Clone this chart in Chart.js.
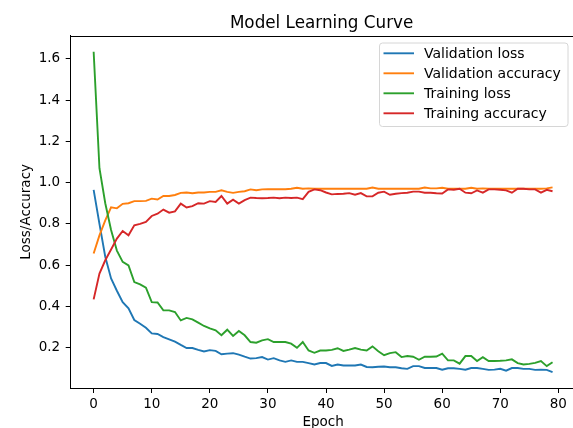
<!DOCTYPE html>
<html>
<head>
<meta charset="utf-8">
<title>Model Learning Curve</title>
<script src="https://cdn.jsdelivr.net/npm/chart.js@4.4.1/dist/chart.umd.min.js"></script>
<style>
html, body { margin: 0; padding: 0; overflow: hidden; background: #fff; }
#chart { display: block; }
</style>
</head>
<body>
<canvas id="chart" width="577" height="440"></canvas>
<script>
// Epochs on the x axis
const epochs = [
    0, 1, 2, 3, 4, 5, 6, 7, 8, 9, 10, 11, 12, 13, 14, 15, 16, 17, 18, 19,
    20, 21, 22, 23, 24, 25, 26, 27, 28, 29, 30, 31, 32, 33, 34, 35, 36, 37, 38, 39,
    40, 41, 42, 43, 44, 45, 46, 47, 48, 49, 50, 51, 52, 53, 54, 55, 56, 57, 58, 59,
    60, 61, 62, 63, 64, 65, 66, 67, 68, 69, 70, 71, 72, 73, 74, 75, 76, 77, 78, 79
];

// Series values
const valLoss = [
    0.965, 0.80, 0.64, 0.535, 0.475, 0.42, 0.39, 0.333, 0.315, 0.295,
    0.268, 0.265, 0.25, 0.239, 0.228, 0.212, 0.197, 0.197, 0.188, 0.18,
    0.187, 0.183, 0.167, 0.17, 0.172, 0.165, 0.155, 0.146, 0.148, 0.153,
    0.141, 0.148, 0.137, 0.13, 0.137, 0.13, 0.13, 0.124, 0.117, 0.124,
    0.124, 0.11, 0.117, 0.112, 0.112, 0.112, 0.117, 0.105, 0.104, 0.106,
    0.107, 0.104, 0.104, 0.099, 0.096, 0.109, 0.109, 0.1, 0.1, 0.1,
    0.092, 0.099, 0.099, 0.096, 0.092, 0.1, 0.1, 0.096, 0.091, 0.092,
    0.096, 0.087, 0.1, 0.1, 0.096, 0.096, 0.091, 0.092, 0.091, 0.08
];
const valAcc = [
    0.656, 0.744, 0.817, 0.88, 0.875, 0.897, 0.90, 0.91, 0.91, 0.911,
    0.922, 0.918, 0.935, 0.935, 0.94, 0.95, 0.952, 0.948, 0.952, 0.952,
    0.955, 0.955, 0.963, 0.955, 0.95, 0.955, 0.958, 0.967, 0.963, 0.967,
    0.968, 0.968, 0.968, 0.968, 0.97, 0.975, 0.97, 0.972, 0.97, 0.97,
    0.97, 0.97, 0.97, 0.97, 0.97, 0.97, 0.97, 0.97, 0.976, 0.97,
    0.97, 0.97, 0.97, 0.97, 0.97, 0.97, 0.97, 0.976, 0.972, 0.972,
    0.975, 0.97, 0.97, 0.97, 0.97, 0.975, 0.97, 0.972, 0.97, 0.97,
    0.97, 0.97, 0.97, 0.97, 0.97, 0.97, 0.97, 0.97, 0.972, 0.977
];
const trainLoss = [
    1.635, 1.07, 0.90, 0.77, 0.67, 0.615, 0.598, 0.517, 0.506, 0.49,
    0.42, 0.418, 0.38, 0.38, 0.372, 0.331, 0.343, 0.336, 0.32, 0.304,
    0.292, 0.283, 0.259, 0.286, 0.256, 0.28, 0.259, 0.226, 0.223, 0.234,
    0.24, 0.226, 0.226, 0.226, 0.218, 0.198, 0.226, 0.185, 0.174, 0.185,
    0.185, 0.188, 0.196, 0.183, 0.189, 0.197, 0.189, 0.185, 0.205, 0.181,
    0.162, 0.172, 0.177, 0.153, 0.158, 0.155, 0.14, 0.155, 0.155, 0.156,
    0.17, 0.137, 0.137, 0.121, 0.158, 0.158, 0.134, 0.153, 0.134, 0.134,
    0.135, 0.137, 0.142, 0.124, 0.117, 0.12, 0.125, 0.134, 0.109, 0.128
];
const trainAcc = [
    0.433, 0.558, 0.623, 0.675, 0.728, 0.765, 0.744, 0.793, 0.80, 0.809,
    0.838, 0.849, 0.869, 0.854, 0.86, 0.898, 0.879, 0.886, 0.90, 0.898,
    0.91, 0.906, 0.935, 0.898, 0.917, 0.898, 0.915, 0.927, 0.925, 0.924,
    0.925, 0.927, 0.924, 0.927, 0.925, 0.927, 0.92, 0.955, 0.967, 0.963,
    0.952, 0.943, 0.945, 0.946, 0.949, 0.941, 0.949, 0.933, 0.933, 0.951,
    0.956, 0.941, 0.946, 0.949, 0.951, 0.956, 0.956, 0.951, 0.951, 0.948,
    0.947, 0.967, 0.965, 0.97, 0.951, 0.948, 0.962, 0.951, 0.967, 0.967,
    0.965, 0.962, 0.951, 0.97, 0.97, 0.967, 0.967, 0.951, 0.965, 0.958
];

// Legend names and colours, in legend order
const seriesNames = ['Validation loss', 'Validation accuracy', 'Training loss', 'Training accuracy'];
const seriesColors = ['#1f77b4', '#ff7f0e', '#2ca02c', '#d62728'];

// Tick labels
const xTicks = [0, 10, 20, 30, 40, 50, 60, 70, 80];
const yTicks = [0.2, 0.4, 0.6, 0.8, 1.0, 1.2, 1.4, 1.6];

const FONT = 'DejaVu Sans';
const tickFont = { family: FONT, size: 13.5 };

// Title, top/right spines and the boxed legend inside the plot
const framePlugin = {
    id: 'frame',
    afterDraw(chart) {
        const ctx = chart.ctx;
        const area = chart.chartArea;
        ctx.save();

        // spines on top and right
        ctx.strokeStyle = '#000';
        ctx.lineWidth = 1;
        ctx.beginPath();
        ctx.moveTo(area.left, Math.round(area.top) + 0.5);
        ctx.lineTo(area.right, Math.round(area.top) + 0.5);
        ctx.lineTo(area.right, area.bottom);
        ctx.stroke();

        // title
        ctx.fillStyle = '#000';
        ctx.font = '16.8px "' + FONT + '"';
        ctx.textAlign = 'center';
        ctx.textBaseline = 'alphabetic';
        ctx.fillText('Model Learning Curve', (area.left + area.right) / 2 - 1.5, 28.3);

        // legend box
        const bx = 379.5, by = 43, bw = 188.5, bh = 83.5, r = 3;
        ctx.beginPath();
        ctx.moveTo(bx + r, by);
        ctx.arcTo(bx + bw, by, bx + bw, by + bh, r);
        ctx.arcTo(bx + bw, by + bh, bx, by + bh, r);
        ctx.arcTo(bx, by + bh, bx, by, r);
        ctx.arcTo(bx, by, bx + bw, by, r);
        ctx.closePath();
        ctx.fillStyle = 'rgba(255,255,255,0.8)';
        ctx.fill();
        ctx.strokeStyle = '#d6d6d6';
        ctx.stroke();

        ctx.font = '14px "' + FONT + '"';
        ctx.textAlign = 'left';
        seriesNames.forEach((name, i) => {
            const rowY = 53.3 + i * 20;
            ctx.strokeStyle = seriesColors[i];
            ctx.lineWidth = 1.9;
            ctx.beginPath();
            ctx.moveTo(383.5, rowY);
            ctx.lineTo(414, rowY);
            ctx.stroke();
            ctx.fillStyle = '#000';
            ctx.fillText(name, 424, rowY + 5);
        });
        ctx.restore();
    }
};

const seriesData = [valLoss, valAcc, trainLoss, trainAcc];

const ctx = document.getElementById('chart').getContext('2d');
new Chart(ctx, {
    type: 'line',
    data: {
        labels: epochs,
        datasets: seriesNames.map((name, i) => ({
            label: name,
            data: seriesData[i],
            borderColor: seriesColors[i],
            backgroundColor: seriesColors[i],
            borderWidth: 1.9,
            pointRadius: 0,
            tension: 0,
            fill: false,
            order: 4 - i // later series drawn on top, like matplotlib
        }))
    },
    options: {
        responsive: false,
        animation: false,
        devicePixelRatio: 1,
        layout: { padding: { top: 35.7, right: 1.5, bottom: 0, left: 0 } },
        plugins: {
            legend: { display: false },
            title: { display: false },
            tooltip: { enabled: false }
        },
        scales: {
            x: {
                type: 'linear',
                min: -3.95,
                max: 82.95,
                afterFit: (scale) => { scale.height = 52; },
                afterBuildTicks: (scale) => { scale.ticks = xTicks.map(v => ({ value: v })); },
                ticks: {
                    font: tickFont,
                    color: '#000',
                    padding: 3.5,
                    maxRotation: 0,
                    callback: (v) => String(v)
                },
                grid: { drawOnChartArea: false, tickLength: 5, tickColor: '#000', tickWidth: 1 },
                border: { color: '#000', width: 1 },
                title: {
                    display: true,
                    text: 'Epoch',
                    font: tickFont,
                    color: '#000',
                    padding: { top: 0, bottom: 9.4 }
                }
            },
            y: {
                min: 0.003,
                max: 1.713,
                afterFit: (scale) => { scale.width = 70.7; },
                afterBuildTicks: (scale) => { scale.ticks = yTicks.map(v => ({ value: v })); },
                ticks: {
                    font: tickFont,
                    color: '#000',
                    padding: 5.5,
                    callback: (v) => v.toFixed(1)
                },
                grid: { drawOnChartArea: false, tickLength: 5, tickColor: '#000', tickWidth: 1 },
                border: { color: '#000', width: 1 },
                title: {
                    display: true,
                    text: 'Loss/Accuracy',
                    font: tickFont,
                    color: '#000',
                    padding: { top: 18.4, bottom: 0 }
                }
            }
        }
    },
    plugins: [framePlugin]
});
</script>
</body>
</html>
